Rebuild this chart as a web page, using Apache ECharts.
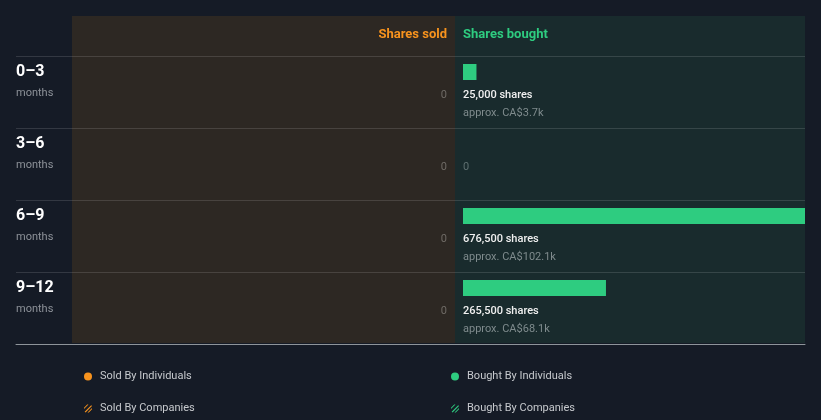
<!DOCTYPE html>
<html><head><meta charset="utf-8">
<script src="https://cdn.jsdelivr.net/npm/echarts@6/dist/echarts.min.js"></script>
<style>html,body{margin:0;padding:0;background:#151b26}#c{width:821px;height:420px}</style>
</head><body><div id="c"></div>
<script>
// ---- data ----
const categories = ['0–3', '3–6', '6–9', '9–12'];
const categoryUnit = 'months';
const soldShares = [0, 0, 0, 0];
const boughtShares = [25000, 0, 676500, 265500];
const boughtValueK = [3.7, 0, 102.1, 68.1]; // CA$ thousands
const headers = ['Shares sold', 'Shares bought'];
const legendSold = ['Sold By Individuals', 'Sold By Companies'];
const legendBought = ['Bought By Individuals', 'Bought By Companies'];
const axisMax = 650000;

const ORANGE = '#f7931e', GREEN = '#2ecc80';
const FONT = 'Roboto, "Noto Sans", sans-serif';
const SPLIT = 'rgba(255,255,255,0.13)';
const hatch = 'path://M0 4 L4 0 L5.6 0 L0 5.6 Z M0.8 9 L9 0.8 L10 2 L2 10 Z M4.4 10 L10 4.4 L10 6 L6 10 Z';

const chart = echarts.init(document.getElementById('c'), null, {renderer: 'canvas'});

function yAx(gi) {
  return {
    type: 'category', gridIndex: gi, data: categories, inverse: true,
    axisLine: {show: false}, axisTick: {show: false}, axisLabel: {show: false},
    splitLine: {show: true, lineStyle: {color: SPLIT, width: 1}}
  };
}
function xAx(gi, inverse) {
  return {
    type: 'value', gridIndex: gi, min: 0, max: axisMax, inverse: !!inverse,
    axisLine: {show: true, onZero: false, lineStyle: {color: '#8e949a', width: 1}},
    axisTick: {show: false}, axisLabel: {show: false}, splitLine: {show: false}
  };
}
function leg(name, icon, left, top) {
  return {
    data: [{name: name, icon: icon}], left: left, top: top, padding: 0, itemWidth: 8, itemHeight: 8,
    selectedMode: false,
    textStyle: {color: '#c6c9cd', fontSize: 11, fontFamily: FONT, padding: [0, 0, 0, 3]}
  };
}

const rowData = categories.map((c, i) => [0, i]);
const soldData = soldShares.map((v, i) => [v, i]);
const boughtData = boughtShares.map((v, i) => [v, i, boughtValueK[i]]);

const option = {
  backgroundColor: '#151b26',
  animation: false,
  textStyle: {fontFamily: FONT},
  grid: [
    {left: 16, top: 56, width: 56, height: 288},
    {left: 72, top: 56, width: 383, height: 288},
    {left: 455, top: 56, width: 350, height: 288}
  ],
  xAxis: [xAx(0), xAx(1, true), xAx(2)],
  yAxis: [yAx(0), yAx(1), yAx(2)],
  graphic: [
    {type: 'rect', z: -10, shape: {x: 72, y: 16, width: 383, height: 327}, style: {fill: '#2d2823'}},
    {type: 'rect', z: -10, shape: {x: 455, y: 16, width: 350, height: 327}, style: {fill: '#192b2d'}},
    {type: 'text', x: 447, y: 35, style: {text: headers[0], fill: ORANGE, font: 'bold 13px ' + FONT, textAlign: 'right', textVerticalAlign: 'middle'}},
    {type: 'text', x: 463, y: 35, style: {text: headers[1], fill: GREEN, font: 'bold 13px ' + FONT, textAlign: 'left', textVerticalAlign: 'middle'}}
  ],
  legend: [
    leg(legendSold[0], 'circle', 84, 371),
    leg(legendSold[1], hatch, 84, 403),
    leg(legendBought[0], 'circle', 451, 371),
    leg(legendBought[1], hatch, 451, 403)
  ],
  series: [
    {
      type: 'custom', name: 'rowLabels', xAxisIndex: 0, yAxisIndex: 0, data: rowData,
      encode: {x: 0, y: 1}, silent: true,
      renderItem: function (params, api) {
        const i = api.value(1);
        const c = api.coord([0, i]);
        const band = api.size([0, 1])[1];
        const top = c[1] - band / 2;
        const x = params.coordSys.x;
        return {type: 'group', children: [
          {type: 'text', style: {x: x, y: top + 16, text: categories[i], fill: '#ffffff', font: 'bold 16px ' + FONT, textVerticalAlign: 'middle'}},
          {type: 'text', style: {x: x, y: top + 37, text: categoryUnit, fill: '#8d9299', font: '11px ' + FONT, textVerticalAlign: 'middle'}}
        ]};
      }
    },
    {
      type: 'custom', name: legendSold[0], xAxisIndex: 1, yAxisIndex: 1, data: soldData,
      encode: {x: 0, y: 1}, itemStyle: {color: ORANGE}, silent: true,
      renderItem: function (params, api) {
        const v = api.value(0), i = api.value(1);
        const base = api.coord([0, i]);
        const end = api.coord([v, i]);
        const band = api.size([0, 1])[1];
        const top = base[1] - band / 2;
        const x0 = base[0] - 8;
        const children = [];
        if (v > 0) {
          children.push({type: 'rect', shape: {x: x0 - (base[0] - end[0]), y: top + 8, width: base[0] - end[0], height: 16}, style: {fill: ORANGE}});
        }
        children.push({type: 'text', style: {x: x0, y: top + 39, text: v > 0 ? v.toLocaleString('en-US') + ' shares' : '0', fill: '#6f6b66', font: '11px ' + FONT, textAlign: 'right', textVerticalAlign: 'middle'}});
        return {type: 'group', children: children};
      }
    },
    {
      type: 'custom', name: legendBought[0], xAxisIndex: 2, yAxisIndex: 2, data: boughtData,
      encode: {x: 0, y: 1}, itemStyle: {color: GREEN}, silent: true,
      renderItem: function (params, api) {
        const v = api.value(0), i = api.value(1), k = api.value(2);
        const base = api.coord([0, i]);
        const end = api.coord([v, i]);
        const band = api.size([0, 1])[1];
        const top = base[1] - band / 2;
        const x0 = base[0] + 8;
        const right = params.coordSys.x + params.coordSys.width;
        const children = [];
        if (v > 0) {
          const w = Math.min(end[0] - base[0], right - x0);
          children.push({type: 'rect', shape: {x: x0, y: top + 8, width: w, height: 16}, style: {fill: GREEN}});
          children.push({type: 'text', style: {x: x0, y: top + 39, text: v.toLocaleString('en-US') + ' shares', fill: '#f0f0f0', font: '500 11px ' + FONT, textVerticalAlign: 'middle'}});
          children.push({type: 'text', style: {x: x0, y: top + 57, text: 'approx. CA$' + k + 'k', fill: '#7f8b8d', font: '11px ' + FONT, textVerticalAlign: 'middle'}});
        } else {
          children.push({type: 'text', style: {x: x0, y: top + 39, text: '0', fill: '#5f6f70', font: '11px ' + FONT, textVerticalAlign: 'middle'}});
        }
        return {type: 'group', children: children};
      }
    },
    {type: 'custom', name: legendSold[1], xAxisIndex: 1, yAxisIndex: 1, data: [], itemStyle: {color: ORANGE}, renderItem: function () { return null; }},
    {type: 'custom', name: legendBought[1], xAxisIndex: 2, yAxisIndex: 2, data: [], itemStyle: {color: GREEN}, renderItem: function () { return null; }}
  ]
};
chart.setOption(option);
</script></body></html>
